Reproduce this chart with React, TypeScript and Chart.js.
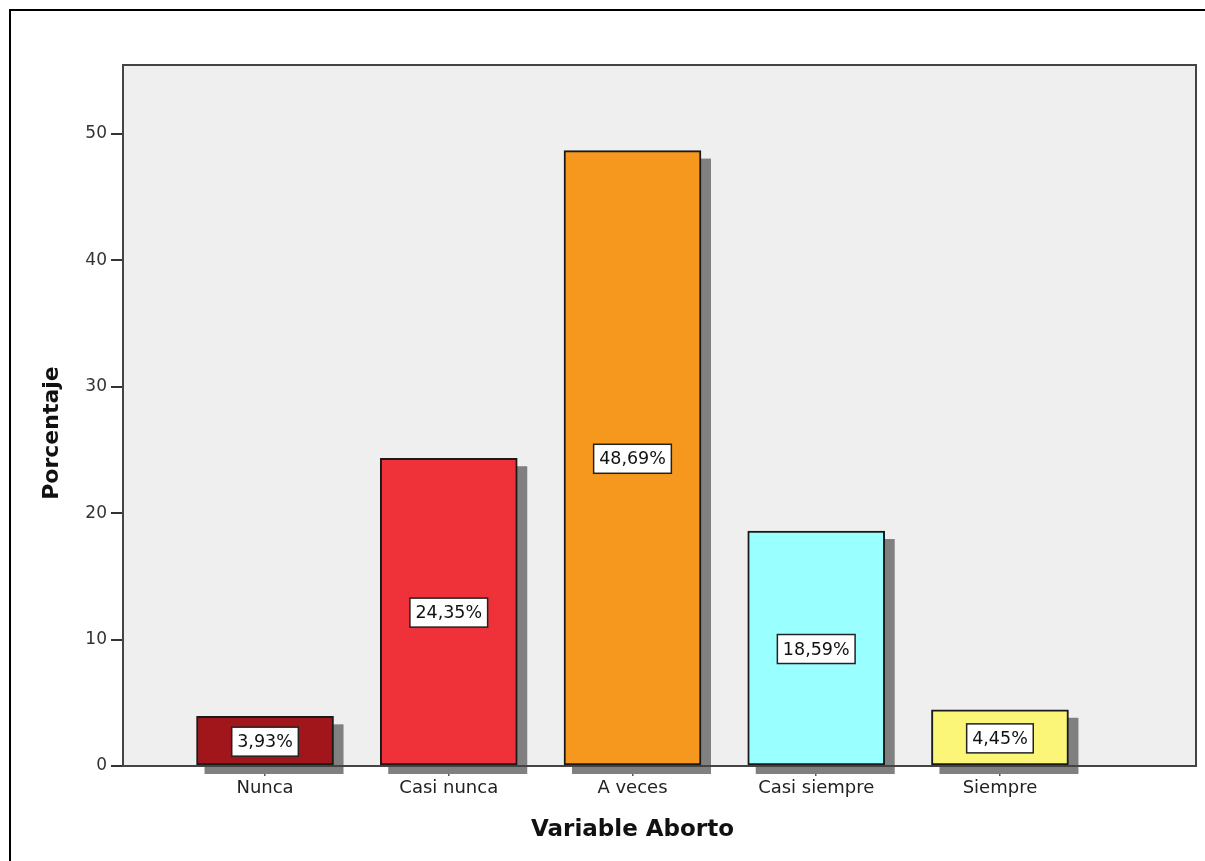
import React, { useEffect, useRef } from "react";
import { Chart, registerables } from "chart.js";

Chart.register(...registerables);

const categories: string[] = ["Nunca", "Casi nunca", "A veces", "Casi siempre", "Siempre"];
const percentages: number[] = [3.93, 24.35, 48.69, 18.59, 4.45];
const valueLabels: string[] = ["3,93%", "24,35%", "48,69%", "18,59%", "4,45%"];
const barColors: string[] = ["#a1161b", "#ef3239", "#f7981e", "#99ffff", "#fbf678"];
const yTicks: number[] = [0, 10, 20, 30, 40, 50];
const xTitle = "Variable Aborto";
const yTitle = "Porcentaje";

const FONT = "'DejaVu Sans', sans-serif";

const decorPlugin = {
  id: "decor",
  beforeDraw(chart: any) {
    const { ctx, chartArea: a, width, height } = chart;
    ctx.save();
    ctx.fillStyle = "#ffffff";
    ctx.fillRect(0, 0, width, height);
    // outer frame
    ctx.strokeStyle = "#000000";
    ctx.lineWidth = 2;
    ctx.beginPath();
    ctx.moveTo(10, height + 5);
    ctx.lineTo(10, 10);
    ctx.lineTo(width + 5, 10);
    ctx.stroke();
    // plot background
    ctx.fillStyle = "#efefef";
    ctx.fillRect(a.left, a.top, a.right - a.left, a.bottom - a.top);
    ctx.restore();
  },
  beforeDatasetsDraw(chart: any) {
    const { ctx, chartArea: a } = chart;
    const meta = chart.getDatasetMeta(0);
    ctx.save();
    ctx.fillStyle = "#808080";
    meta.data.forEach((el: any) => {
      const { x, y, base, width } = el.getProps(["x", "y", "base", "width"], true);
      const left = x - width / 2 + 8;
      const right = x + width / 2 + 10;
      ctx.fillRect(left, y + 8, right - left, base - y + 1);
    });
    // plot border
    ctx.strokeStyle = "#444444";
    ctx.lineWidth = 2;
    ctx.strokeRect(a.left, a.top, a.right - a.left, a.bottom - a.top);
    ctx.restore();
  },
  afterDatasetsDraw(chart: any) {
    const { ctx } = chart;
    const meta = chart.getDatasetMeta(0);
    ctx.save();
    ctx.font = `17.5px ${FONT}`;
    ctx.textAlign = "center";
    ctx.textBaseline = "middle";
    meta.data.forEach((el: any, i: number) => {
      const { x, y, base } = el.getProps(["x", "y", "base"], true);
      const cy = (y + base) / 2 + 1;
      const txt = valueLabels[i];
      const w = ctx.measureText(txt).width + 11;
      const h = 29;
      ctx.fillStyle = "#ffffff";
      ctx.fillRect(x - w / 2, cy - h / 2, w, h);
      ctx.strokeStyle = "#222222";
      ctx.lineWidth = 1.5;
      ctx.strokeRect(x - w / 2, cy - h / 2, w, h);
      ctx.fillStyle = "#111111";
      ctx.fillText(txt, x, cy + 1);
    });
    ctx.restore();
  },
  afterDraw(chart: any) {
    const { ctx } = chart;
    const xs = chart.scales.x;
    ctx.save();
    ctx.fillStyle = "#111111";
    ctx.textAlign = "center";
    ctx.textBaseline = "middle";
    ctx.font = `bold 23px ${FONT}`;
    ctx.fillText(xTitle, xs.getPixelForValue(2), 830);
    ctx.font = `bold 22px ${FONT}`;
    ctx.translate(52, 433);
    ctx.rotate(-Math.PI / 2);
    ctx.fillText(yTitle, 0, 0);
    ctx.restore();
  },
};

export default function App() {
  const ref = useRef<HTMLCanvasElement | null>(null);
  useEffect(() => {
    document.body.style.margin = "0";
    if (!ref.current) return;
    const chart = new Chart(ref.current, {
      type: "bar",
      data: {
        datasets: [
          {
            data: percentages.map((v, i) => ({ x: i, y: v })),
            backgroundColor: barColors,
            borderColor: "#1a1a1a",
            borderWidth: 2,
            barThickness: 137,
            borderSkipped: false,
          },
        ],
      },
      options: {
        responsive: false,
        animation: false,
        events: [],
        layout: { padding: { left: 0, top: 65, right: 9, bottom: 0 } },
        plugins: { legend: { display: false }, tooltip: { enabled: false }, title: { display: false } },
        scales: {
          x: {
            type: "linear",
            offset: false,
            min: -0.773,
            max: 5.067,
            afterBuildTicks: (s: any) => {
              s.ticks = categories.map((_, i) => ({ value: i }));
            },
            afterFit: (s: any) => {
              s.height = 95;
            },
            border: { display: false },
            grid: { offset: false, drawOnChartArea: false, drawTicks: true, tickLength: 10, color: "#555555", lineWidth: 1.5 },
            ticks: {
              autoSkip: false,
              maxRotation: 0,
              padding: 2,
              color: "#222222",
              font: { family: FONT, size: 18 },
              callback: (v: any) => categories[Math.round(Number(v))] ?? "",
            },
          },
          y: {
            type: "linear",
            min: 0,
            max: 55.46,
            afterBuildTicks: (s: any) => {
              s.ticks = yTicks.map((v) => ({ value: v }));
            },
            afterFit: (s: any) => {
              s.width = 123;
            },
            border: { display: false },
            grid: { drawOnChartArea: false, drawTicks: true, tickLength: 12, color: "#333333", lineWidth: 2 },
            ticks: {
              padding: 4,
              color: "#333333",
              font: { family: FONT, size: 17 },
            },
          },
        },
      },
      plugins: [decorPlugin],
    } as any);
    return () => chart.destroy();
  }, []);
  return (
    <div style={{ position: "fixed", left: 0, top: 0, width: 1205, height: 861 }}>
      <canvas ref={ref} width={1205} height={861} style={{ display: "block" }} />
    </div>
  );
}
